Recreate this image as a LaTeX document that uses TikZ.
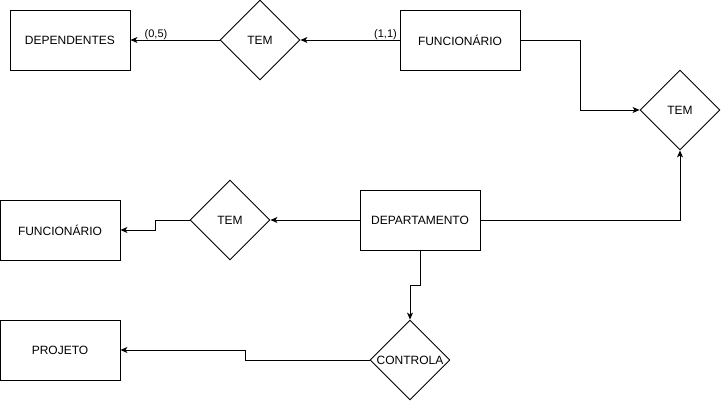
\documentclass[tikz,border=0pt]{standalone}
\usepackage{fontspec}
\setmainfont{Liberation Sans}
\usetikzlibrary{arrows.meta,shapes.geometric}
\begin{document}
\begin{tikzpicture}[x=1pt,y=-1pt,
  ent/.style={draw,line width=0.9pt,minimum width=120pt,minimum height=60pt,inner sep=0pt,font=\fontsize{12}{14}\selectfont},
  rel/.style={draw,line width=0.9pt,diamond,minimum width=80pt,minimum height=80pt,inner sep=0pt,font=\fontsize{12}{14}\selectfont},
  conn/.style={line width=0.9pt,-{Stealth[length=7pt,width=6pt,inset=2pt]}},
  card/.style={font=\fontsize{11}{13}\selectfont,inner sep=0pt}]
\useasboundingbox (0,0) rectangle (721,401);
\fill[white] (0,0) rectangle (721,401);
\node[ent] (dep) at (70,40) {DEPENDENTES};
\node[rel] (tem1) at (260,40) {TEM};
\node[ent] (func1) at (460,40) {FUNCIONÁRIO};
\node[rel] (tem2) at (680,110) {TEM};
\node[ent] (depto) at (420,220) {DEPARTAMENTO};
\node[rel] (tem3) at (230,220) {TEM};
\node[ent] (func2) at (60,230) {FUNCIONÁRIO};
\node[ent] (proj) at (60,350) {PROJETO};
\node[rel] (ctrl) at (410,360) {CONTROLA};
\draw[conn] (tem1.west) -- (dep.east);
\draw[conn] (func1.west) -- (tem1.east);
\node[card] (c1) at (156,35) {(0,5)};
\node[card] (c2) at (385.5,35) {(1,1)};
\draw[conn] (func1.east) -- (580,40) -- (580,110) -- (tem2.west);
\draw[conn] (depto.east) -- (680,220) -- (tem2.south);
\draw[conn] (depto.west) -- (tem3.east);
\draw[conn] (tem3.west) -- (155,220) -- (155,230) -- (func2.east);
\draw[conn] (depto.south) -- (420,285) -- (410,285) -- (ctrl.north);
\draw[conn] (ctrl.west) -- (245,360) -- (245,350) -- (proj.east);
\end{tikzpicture}
\end{document}
